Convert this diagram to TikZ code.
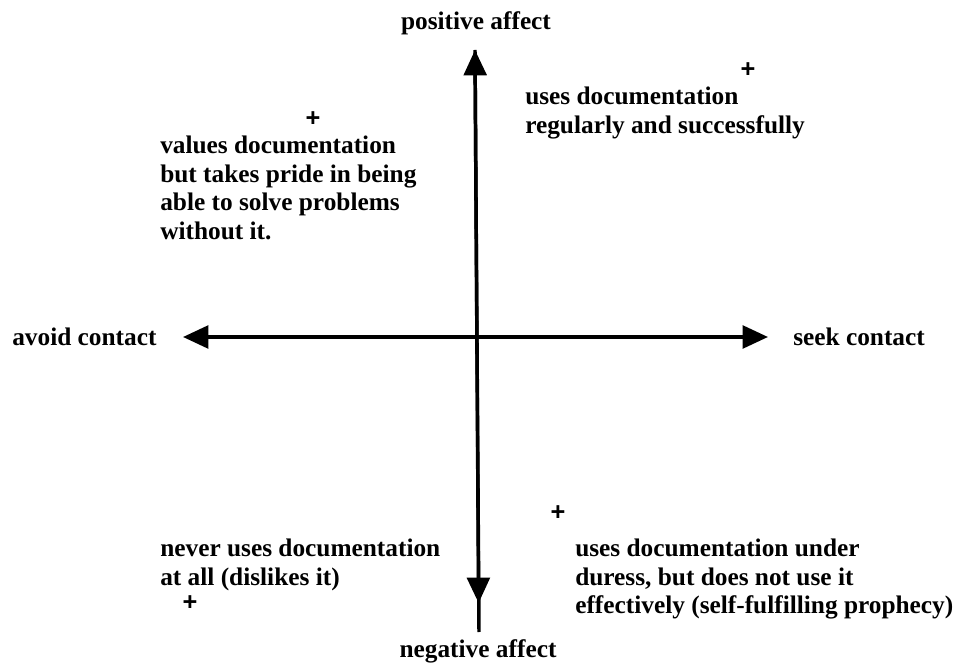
\documentclass[tikz,border=0pt]{standalone}
\usepackage{fontspec}
\setmainfont{Liberation Serif}
\newfontfamily\plusfont{Liberation Sans}
\usetikzlibrary{arrows.meta}
\tikzset{bigtip/.tip={Triangle[length=19pt,width=17pt]}}
\begin{document}
\begin{tikzpicture}[x=0.75pt,y=-0.75pt,
  axis/.style={line width=2.6pt},
  lbl/.style={inner sep=0pt,font=\bfseries\fontsize{19}{21.3}\selectfont},
  note/.style={lbl,align=left,anchor=north west},
  plussign/.style={inner sep=0pt,anchor=center,font=\plusfont\bfseries\fontsize{19}{19}\selectfont}]
\useasboundingbox (0,0) rectangle (961,670);
% axis end points
\coordinate (top) at (475,50);
\coordinate (bot) at (479,632);
\coordinate (dtip) at (478.6,603);
\coordinate (lft) at (183,337);
\coordinate (rgt) at (768,337);
% axes
\draw[axis,-bigtip] (bot) -- (top);
\draw[axis,-bigtip] (top) -- (dtip);
\draw[axis,bigtip-bigtip] (lft) -- (rgt);
% axis labels
\node[lbl,anchor=base] (pos) at (476,30) {positive affect};
\node[lbl,anchor=base] (neg) at (478,657) {negative affect};
\node[lbl,anchor=base west] (avoid) at (12,346) {avoid contact};
\node[lbl,anchor=base west] (seek) at (793,346) {seek contact};
% quadrant descriptions
\node[note] (tl) at (160,136) {values documentation\\but takes pride in being\\able to solve problems\\without it.};
\node[note] (tr) at (525,87) {uses documentation\\regularly and successfully};
\node[note] (bl) at (160,539) {never uses documentation\\at all (dislikes it)};
\node[note] (br) at (575,539) {uses documentation under\\duress, but does not use it\\effectively (self-fulfilling prophecy)};
% plus markers
\node[plussign] (ptl) at (313,119) {+};
\node[plussign] (ptr) at (748,70) {+};
\node[plussign] (pbr) at (558,513) {+};
\node[plussign] (pbl) at (190,603) {+};
\end{tikzpicture}
\end{document}
